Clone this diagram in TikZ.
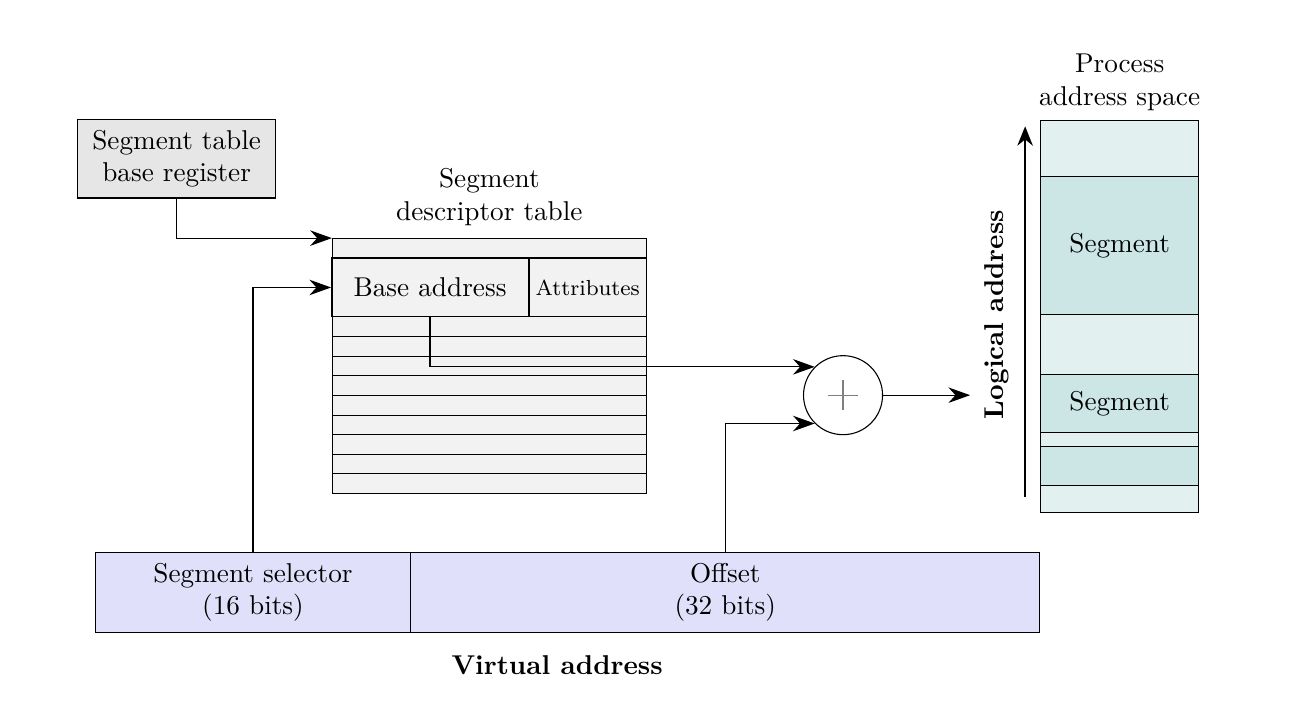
\documentclass[tikz,border=0pt]{standalone}
\usetikzlibrary{arrows.meta}
\definecolor{regfill}{HTML}{E6E6E6}
\definecolor{tabfill}{HTML}{F2F2F2}
\definecolor{vafill}{HTML}{E0E0FA}
\definecolor{pslight}{HTML}{E2F0F0}
\definecolor{psseg}{HTML}{CCE5E5}
\tikzset{
  box/.style={draw,rectangle,inner sep=2pt},
  link/.style={-{Stealth[length=2.8mm,width=2mm]}},
  band/.style={draw,fill=pslight},
  segbox/.style={draw,fill=psseg,minimum width=2.04cm,inner sep=0pt}
}
\begin{document}
\begin{tikzpicture}
  \useasboundingbox (0,0) rectangle (16.70,9.11);
  % register and descriptor table
  \node[box,fill=regfill,align=center,minimum width=2.55cm,minimum height=1.01cm]
    (reg) at (2.28,7.06) {Segment table\\base register};
  \node[box,fill=tabfill,minimum width=4.05cm,minimum height=3.29cm] (tbl) at (6.315,4.385) {};
  \node[align=center,above=1pt] (tbltitle) at (tbl.north) {Segment\\descriptor table};
  \draw (4.29,5.78) -- (8.34,5.78);
  \foreach \k in {1,...,8}
    \draw (4.29,5.02-\k*0.2533) -- (8.34,5.02-\k*0.2533);
  \node[box,minimum width=2.54cm,minimum height=0.76cm] (base) at (5.55,5.40) {Base address};
  \node[box,minimum width=1.51cm,minimum height=0.76cm,font=\footnotesize] (attr) at (7.585,5.40) {Attributes};
  % adder
  \node[draw,circle,minimum size=1.02cm] (adder) at (10.88,4.01) {};
  \draw[gray] (adder.center) ++(-0.19,0) -- ++(0.38,0)
    (adder.center) ++(0,-0.19) -- ++(0,0.38);
  \coordinate (out) at (12.52,4.01);
  % virtual address
  \node[box,fill=vafill,align=center,minimum width=4.07cm,minimum height=1.04cm]
    (selector) at (3.265,1.465) {Segment selector\\(16 bits)};
  \node[box,fill=vafill,align=center,minimum width=8.12cm,minimum height=1.04cm]
    (offset) at (9.36,1.465) {Offset\\(32 bits)};
  \node[font=\bfseries] (va) at (7.19,0.52) {Virtual address};
  % process address space
  \draw[band] (13.43,6.83) rectangle (15.47,7.56);
  \node[segbox,minimum height=1.78cm] (seg1) at (14.45,5.94) {Segment};
  \draw[band] (13.43,4.28) rectangle (15.47,5.05);
  \node[segbox,minimum height=0.75cm] (seg2) at (14.45,3.905) {Segment};
  \draw[band] (13.43,3.35) rectangle (15.47,3.53);
  \node[segbox,minimum height=0.51cm] (seg3) at (14.45,3.095) {};
  \draw[band] (13.43,2.49) rectangle (15.47,2.84);
  \node[align=center] (pstitle) at (14.45,8.05) {Process\\address space};
  \coordinate (la0) at (13.23,2.69);
  \coordinate (la1) at (13.23,7.48);
  \draw[thick,-{Stealth[length=2.5mm,width=2mm]}] (la0) -- (la1);
  \node[font=\bfseries,rotate=90] (latext) at (12.86,5.05) {Logical address};
  % connectors
  \draw[link] (reg.south) |- (tbl.north west);
  \draw[link] (selector.north) |- (base.west);
  \draw[link] (base.south) |- (adder.135);
  \draw[link] (offset.north) |- (adder.225);
  \draw[link] (adder.east) -- (out);
\end{tikzpicture}
\end{document}
